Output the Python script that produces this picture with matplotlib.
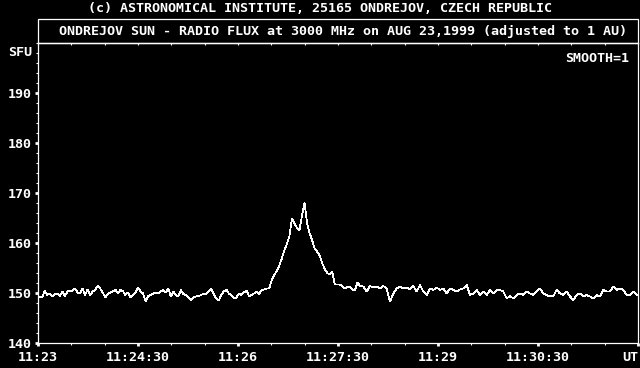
import matplotlib.pyplot as plt
import numpy as np
from matplotlib.patches import Rectangle
from matplotlib.ticker import MultipleLocator

# Radio flux [SFU]. Time is seconds after 11:23:00 UT.
# First stretch (quiet sun + burst) sampled finer than the tail.
start_a, step_a = 1.5, 2.27
flux_a = [
    149.3, 149.1, 150.5, 149.6, 149.9, 149.3, 149.8, 149.9, 149.4, 150.3,
    149.4, 150.3, 150.5, 150.4, 150.9, 150.1, 149.9, 150.9, 149.6, 150.7,
    149.6, 150.3, 150.6, 151.4, 150.9, 150.1, 149.1, 149.8, 150.1, 150.3,
    150.7, 149.9, 150.6, 150.4, 149.6, 150.1, 149.1, 149.6, 150.1, 151.1,
    150.3, 149.9, 148.3, 149.4, 149.6, 149.9, 150.1, 149.9, 150.3, 150.6,
    150.1, 150.9, 149.3, 150.3, 149.6, 149.3, 150.6, 149.8, 149.6, 149.1,
    148.6, 149.1, 149.3, 149.4, 149.6, 149.9, 149.8, 150.3, 150.9, 149.8,
    148.9, 148.5, 149.6, 150.3, 150.7, 149.9, 149.6, 148.9, 149.1, 149.9,
    149.6, 150.1, 150.5, 149.4, 149.6, 149.9, 150.3, 149.8, 150.6, 150.7,
    150.9, 150.9,
    # burst
    152.6, 153.6, 154.4, 155.5, 156.9, 158.5, 159.8, 161.3, 164.9, 164.0,
    163.0, 162.5, 165.5, 168.1, 164.0, 162.0, 160.6, 158.9, 158.3, 157.5,
    156.0, 154.8, 154.0, 153.7, 154.2, 151.7, 151.7, 151.7, 151.3, 150.9,
    151.2, 151.3, 150.7, 150.6, 152.1,
]
start_b, step_b = 289.8, 3.0
flux_b = [
    151.4, 151.3, 150.3, 151.4, 151.1, 151.3, 150.9, 151.4, 150.9, 148.3,
    149.9, 150.9, 151.3, 150.9, 151.1, 150.7, 151.4, 150.3, 151.6, 150.3,
    149.6, 150.9, 150.6, 151.1, 150.6, 150.9, 149.9, 150.9, 150.6, 150.3,
    150.7, 150.9, 151.6, 149.6, 149.9, 150.6, 149.6, 150.3, 149.6, 150.6,
    149.9, 150.6, 150.6, 150.3, 148.9, 149.4, 148.9, 149.6, 149.9, 149.6,
    150.3, 149.9, 149.6, 150.3, 150.9, 149.9, 149.6, 149.3, 149.4, 150.6,
    149.9, 149.6, 150.3, 149.3, 148.6, 149.6, 149.9, 149.3, 149.6, 149.3,
    148.9, 149.6, 149.3, 150.6, 150.3, 150.3, 151.3, 150.6, 150.9, 150.6,
    149.6, 149.6, 150.3, 149.6,
]

x_ticks = [0, 90, 180, 270, 360, 450, 540]
x_labels = ["11:23", "11:24:30", "11:26", "11:27:30", "11:29", "11:30:30", "UT"]
y_ticks = [140, 150, 160, 170, 180, 190]

t = np.concatenate([
    start_a + step_a * np.arange(len(flux_a)),
    start_b + step_b * np.arange(len(flux_b)),
])
flux = np.array(flux_a + flux_b)

plt.rcParams["font.family"] = ["DejaVu Sans Mono"]
plt.rcParams["font.weight"] = "bold"
plt.rcParams["font.size"] = 9.6
plt.rcParams["text.color"] = "white"

W, H = 640, 368
fig = plt.figure(figsize=(W / 100, H / 100), dpi=100, facecolor="black")
ax = fig.add_axes([38 / W, 25 / H, 600 / W, 300 / H], facecolor="black")

ax.plot(t, flux, color="white", lw=0.55, antialiased=False)
ax.set_xlim(0, 540)
ax.set_ylim(140, 200)

for side in ["left", "bottom", "right", "top"]:
    ax.spines[side].set_color("white")
    ax.spines[side].set_linewidth(0.9)

ax.set_xticks(x_ticks, labels=x_labels)
ax.set_yticks(y_ticks)
ax.xaxis.set_minor_locator(MultipleLocator(30))
ax.yaxis.set_minor_locator(MultipleLocator(2))
ax.tick_params(which="major", direction="out", colors="white", length=2.3,
               width=2.0, labelsize=9.6)
ax.tick_params(which="minor", direction="out", colors="white", length=1.6,
               width=0.8)
ax.tick_params(axis="y", which="major", pad=2.2)
ax.tick_params(axis="x", which="major", pad=3.5)
ax.get_xticklabels()[-1].set_ha("right")

# small inward ticks hanging from the title box line
top = ax.secondary_xaxis("top")
top.set_xticks(np.arange(0, 541, 30), labels=[])
top.tick_params(direction="in", colors="white", length=1.4, width=0.8)
top.spines["top"].set_color("white")

ax.annotate("SFU", xy=(0, 198), xycoords=("axes fraction", "data"),
            xytext=(-4.4, 0), textcoords="offset points",
            ha="right", va="center")
ax.annotate("SMOOTH=1", xy=(1, 1), xycoords="axes fraction",
            xytext=(-6.5, -10.8), textcoords="offset points",
            ha="right", va="center")

# title box above the plot
fig.add_artist(Rectangle((38 / W, 325 / H), 600 / W, 24 / H,
                         transform=fig.transFigure, fill=False,
                         edgecolor="white", lw=0.9))
fig.text(0.5, 1 - 9 / H,
         "(c) ASTRONOMICAL INSTITUTE, 25165 ONDREJOV, CZECH REPUBLIC",
         ha="center", va="center")
fig.text(343 / W, 1 - 31 / H,
         "ONDREJOV SUN - RADIO FLUX at 3000 MHz on AUG 23,1999 (adjusted to 1 AU)",
         ha="center", va="center")

fig.savefig("out.png", dpi=100, facecolor="black")
